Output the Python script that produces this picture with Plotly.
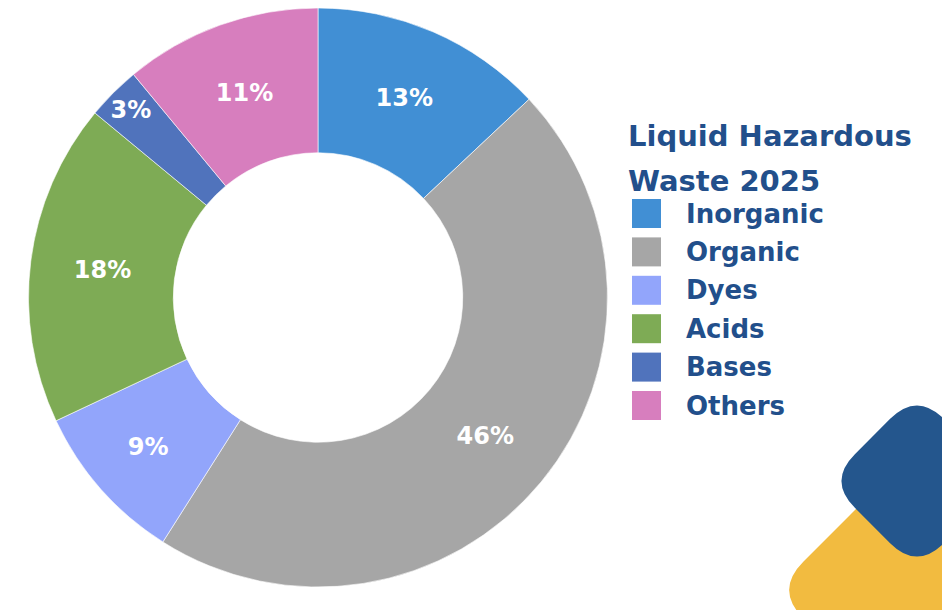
import plotly.graph_objects as go

categories = ["Inorganic", "Organic", "Dyes", "Acids", "Bases", "Others"]
shares = [13, 46, 9, 18, 3, 11]
colors = ["#418FD4", "#A6A6A6", "#92A5FB", "#7EAB55", "#5073BC", "#D77EBE"]
legend_title = ["Liquid Hazardous", "Waste 2025"]

W, H = 950, 610
OFF = 8  # page offset of the plot in the browser window
TEXT_BLUE = "#224F8B"
FONT = "DejaVu Sans"


def px(x):
    return (x - OFF) / W


def py(y):
    return min(1.0, 1 - (y - OFF) / H)


fig = go.Figure()
fig.add_trace(go.Pie(
    labels=categories,
    values=shares,
    sort=False,
    direction="clockwise",
    rotation=0,
    hole=0.5,
    marker=dict(colors=colors, line=dict(color="white", width=0.6)),
    texttemplate="%{percent:.0%}",
    textposition="inside",
    insidetextorientation="horizontal",
    textfont=dict(family=FONT, size=24, color="white", weight="bold"),
    domain=dict(x=[px(28), px(608)], y=[py(587), py(7)]),
    showlegend=False,
    hoverinfo="label+percent",
))


def rounded_diamond(cx, cy, h, r):
    verts = [(cx, cy - h), (cx + h, cy), (cx, cy + h), (cx - h, cy)]
    n = len(verts)

    def toward(a, b, d):
        dx, dy = b[0] - a[0], b[1] - a[1]
        L = (dx * dx + dy * dy) ** 0.5
        return (a[0] + dx / L * d, a[1] + dy / L * d)

    path = ""
    for i in range(n):
        p0, p1, p2 = verts[i - 1], verts[i], verts[(i + 1) % n]
        a, b = toward(p1, p0, r), toward(p1, p2, r)
        cmd = "M" if i == 0 else "L"
        path += (f"{cmd}{px(a[0]):.5f},{1 - (a[1] - OFF) / H:.5f} "
                 f"Q{px(p1[0]):.5f},{1 - (p1[1] - OFF) / H:.5f} "
                 f"{px(b[0]):.5f},{1 - (b[1] - OFF) / H:.5f} ")
    return path + "Z"


shapes = [
    dict(type="path", xref="paper", yref="paper", path=rounded_diamond(930, 590, 155, 40),
         fillcolor="#F2BB40", line=dict(width=0), layer="above"),
    dict(type="path", xref="paper", yref="paper", path=rounded_diamond(917, 481, 89, 38),
         fillcolor="#24568D", line=dict(width=0), layer="above"),
]

annotations = []
for i, t in enumerate(legend_title):
    annotations.append(dict(
        x=px(626), y=py(136 + 45 * i), xref="paper", yref="paper",
        text=f"<b>{t}</b>", showarrow=False, xanchor="left", yanchor="middle",
        font=dict(family=FONT, size=29, color=TEXT_BLUE),
    ))

for i, (cat, col) in enumerate(zip(categories, colors)):
    cy = 213.5 + 38.4 * i
    shapes.append(dict(
        type="rect", xref="paper", yref="paper",
        x0=px(632), x1=px(661), y0=py(cy - 14.5), y1=py(cy + 14.5),
        fillcolor=col, line=dict(width=0),
    ))
    annotations.append(dict(
        x=px(684), y=py(cy), xref="paper", yref="paper",
        text=f"<b>{cat}</b>", showarrow=False, xanchor="left", yanchor="middle",
        font=dict(family=FONT, size=26, color=TEXT_BLUE),
    ))

fig.update_layout(
    width=W, height=H,
    margin=dict(l=0, r=0, t=0, b=0),
    paper_bgcolor="white",
    plot_bgcolor="white",
    uniformtext=dict(minsize=24, mode="show"),
    shapes=shapes,
    annotations=annotations,
    font=dict(family=FONT),
)

fig.write_html("out.html")
